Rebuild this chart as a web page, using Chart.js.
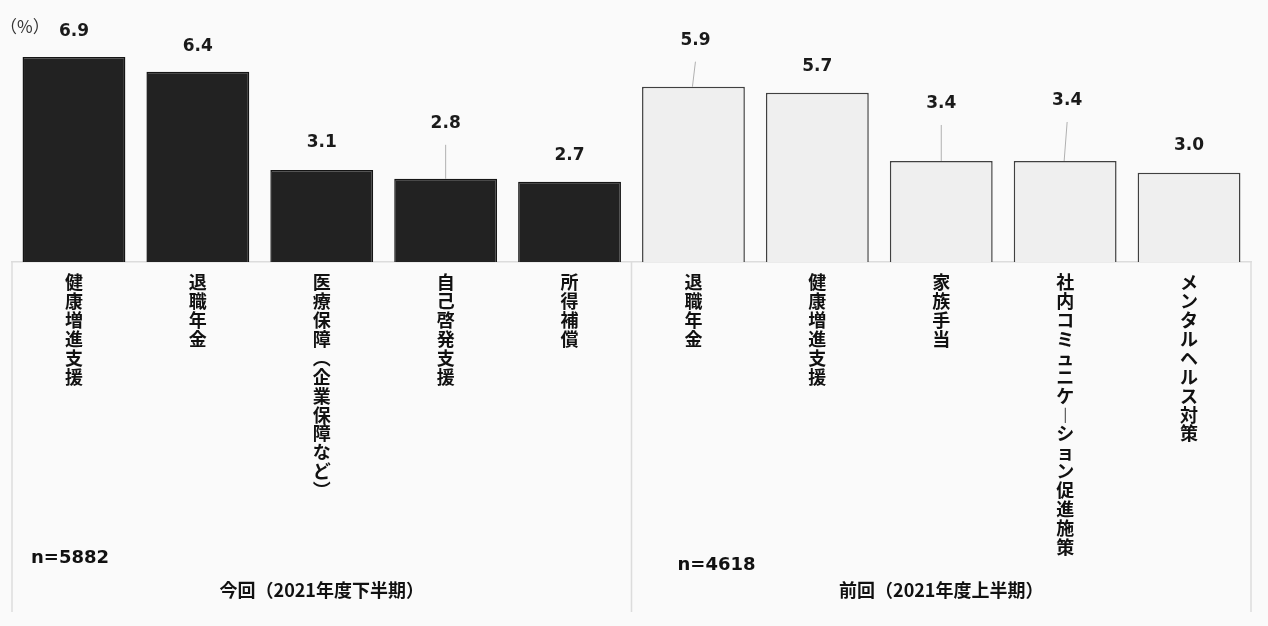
<!DOCTYPE html>
<html>
<head>
<meta charset="utf-8">
<script src="https://cdn.jsdelivr.net/npm/chart.js@4/dist/chart.umd.min.js"></script>
<style>
  html, body { margin: 0; padding: 0; background: #fafafa; }
  #wrap { width: 1268px; height: 626px; }
</style>
</head>
<body>
<div id="wrap"><canvas id="c"></canvas></div>
<script>
// two survey rounds, top 5 items each
const categories = [
  "健康増進支援", "退職年金", "医療保障（企業保障など）", "自己啓発支援", "所得補償",
  "退職年金", "健康増進支援", "家族手当", "社内コミュニケーション促進施策", "メンタルヘルス対策"
];
const values = [6.9, 6.4, 3.1, 2.8, 2.7, 5.9, 5.7, 3.4, 3.4, 3.0];
const groupNames = ["今回（2021年度下半期）", "前回（2021年度上半期）"];
const groupN = ["n=5882", "n=4618"];
const groupSize = 5;
const unitLabel = "（%）";

// label placement: [dx, lift above bar top]
const labelPos = [[0, 25], [0, 25], [0, 27], [0, 55], [0, 26], [2, 46], [0, 26], [0, 57], [2, 60], [0, 27]];

// vertical forms so the stacked tick text reads top-to-bottom
const vertForm = { "（": "︵", "）": "︶", "ー": "︱" };
const stackChars = s => Array.from(s).map(ch => vertForm[ch] || ch);

const boxPlugin = {
  id: "boxes",
  afterDraw(chart) {
    const ctx = chart.ctx;
    const xs = chart.scales.x;
    const ca = chart.chartArea;
    const step = xs.getPixelForValue(1) - xs.getPixelForValue(0);
    const bottom = 612;
    const edges = [];
    for (let g = 0; g <= categories.length / groupSize; g++) {
      edges.push(xs.getPixelForValue(g * groupSize) - step / 2);
    }
    ctx.save();
    ctx.strokeStyle = "#dcdcdc";
    ctx.lineWidth = 1.5;
    edges.forEach(x => {
      ctx.beginPath();
      ctx.moveTo(x, ca.bottom);
      ctx.lineTo(x, bottom);
      ctx.stroke();
    });

    // group captions and sample sizes
    ctx.fillStyle = "#111";
    ctx.textBaseline = "middle";
    ctx.font = "bold 18px 'Noto Sans CJK JP'";
    ctx.textAlign = "center";
    groupNames.forEach((t, g) => ctx.fillText(t, (edges[g] + edges[g + 1]) / 2, 590));
    ctx.font = "bold 18px 'DejaVu Sans'";
    ctx.textAlign = "left";
    ctx.fillText(groupN[0], edges[0] + 19, 558);
    ctx.fillText(groupN[1], edges[1] + 46, 565);

    ctx.font = "17px 'Noto Sans CJK JP'";
    ctx.fillStyle = "#333";
    ctx.fillText(unitLabel, 0, 27);
    ctx.restore();
  }
};

const valuePlugin = {
  id: "values",
  afterDatasetsDraw(chart) {
    const ctx = chart.ctx;
    const meta = chart.getDatasetMeta(0);
    ctx.save();
    ctx.font = "bold 17px 'DejaVu Sans'";
    ctx.textAlign = "center";
    ctx.textBaseline = "middle";
    meta.data.forEach((bar, i) => {
      const [dx, lift] = labelPos[i];
      const lx = bar.x + dx;
      const ly = bar.y - lift;
      if (lift > 35) {
        ctx.strokeStyle = "#b0b0b0";
        ctx.lineWidth = 1;
        ctx.beginPath();
        ctx.moveTo(lx, ly + 21);
        ctx.lineTo(bar.x - (dx ? 1 : 0), bar.y);
        ctx.stroke();
      }
      ctx.fillStyle = "#1a1a1a";
      ctx.fillText(values[i].toFixed(1), lx, ly);
    });
    ctx.restore();
  }
};

new Chart(document.getElementById("c"), {
  type: "bar",
  data: {
    labels: categories,
    datasets: [{
      data: values,
      backgroundColor: values.map((v, i) => i < groupSize ? "#222222" : "#efefef"),
      borderColor: values.map((v, i) => i < groupSize ? "#151515" : "#404040"),
      borderWidth: 1.5,
      barPercentage: 0.83,
      categoryPercentage: 1
    }]
  },
  options: {
    responsive: true,
    maintainAspectRatio: false,
    animation: false,
    layout: { padding: { left: 12, right: 17, top: 54, bottom: 14 } },
    plugins: { legend: { display: false }, tooltip: { enabled: false } },
    scales: {
      y: { display: false, min: 0, max: 7 },
      x: {
        grid: { display: false },
        border: { display: true, color: "#dcdcdc", width: 1.5 },
        afterFit(scale) { scale.height = 350; },
        ticks: {
          autoSkip: false,
          maxRotation: 0,
          minRotation: 0,
          padding: 3,
          color: "#111",
          font: { family: "'Noto Sans CJK JP'", size: 18, weight: "bold", lineHeight: 1.05 },
          callback(v) { return stackChars(this.getLabelForValue(v)); }
        }
      }
    }
  },
  plugins: [boxPlugin, valuePlugin]
});
</script>
</body>
</html>
